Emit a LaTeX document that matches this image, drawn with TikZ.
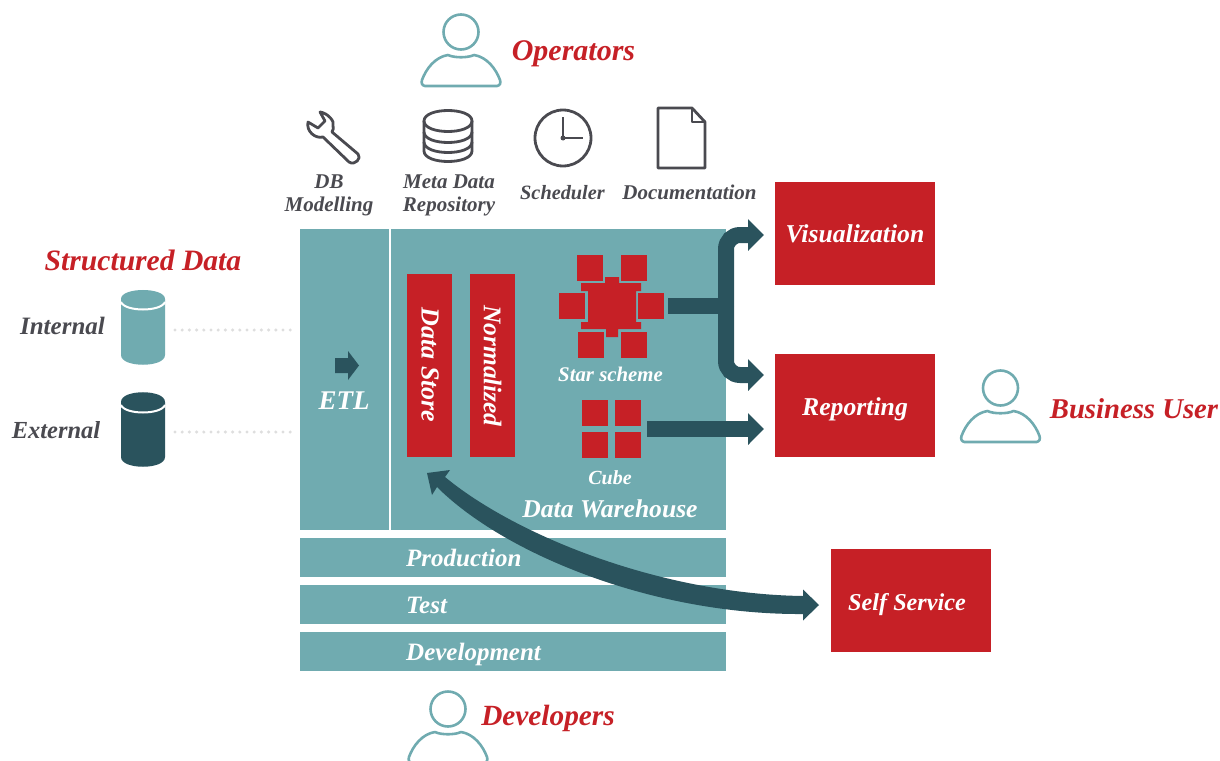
\documentclass[tikz,border=0pt]{standalone}
\usepackage{fontspec}
\setmainfont{Liberation Serif}
\usetikzlibrary{arrows.meta,calc}
\definecolor{teal}{HTML}{70ABB0}
\definecolor{deep}{HTML}{2A535D}
\definecolor{crim}{HTML}{C62026}
\definecolor{slate}{HTML}{4A4A50}
\newcommand{\fs}[1]{\fontsize{#1}{#1}\selectfont\bfseries\itshape}
\tikzset{
  box/.style={draw=none,inner sep=0pt,outer sep=0pt,anchor=north west},
  tealbox/.style={box,fill=teal},
  redbox/.style={box,fill=crim,text=white},
  sq/.style={box,fill=crim,minimum width=26pt,minimum height=26pt},
  flow/.style={draw=deep,line width=16pt},
  flowtip/.style={flow,-{Triangle[length=16pt,width=31pt]},shorten >=11pt},
  icon/.style={draw=slate,line width=2.8pt,line join=round},
  person/.style={draw=teal,line width=2.6pt,line join=round},
  tt/.style={inner sep=0pt,text=white,anchor=base},
  gray/.style={inner sep=0pt,text=slate,anchor=base},
  rd/.style={inner sep=0pt,text=crim,anchor=base},
  dots/.style={draw=black!13,line width=3.4pt,line cap=round,dash pattern=on 0pt off 7.2pt},
  pics/user/.style={code={
    \draw[person] (0,-55) circle (17.5);
    \draw[person] (-36,-1) .. controls (-39,-1.5) and (-40,-4) .. (-39,-7)
      .. controls (-35,-18) and (-26,-30) .. (-13,-32)
      .. controls (-7,-29) and (7,-29) .. (13,-32)
      .. controls (26,-30) and (35,-18) .. (39,-7)
      .. controls (40,-4) and (39,-1.5) .. (36,-1) -- cycle;
  }}
}
\begin{document}
\begin{tikzpicture}[x=1pt,y=-1pt]
\useasboundingbox (0,0) rectangle (1220,760);
\clip (0,0) rectangle (1220,760);
% panels
\node[tealbox,minimum width=426pt,minimum height=301pt] (dw) at (300,229) {};
\draw[white,line width=2pt] ($(dw.north west)+(90,0)$) -- ($(dw.south west)+(90,0)$);
\node[tealbox,minimum width=426pt,minimum height=39pt] (prod) at (300,538) {};
\node[tealbox,minimum width=426pt,minimum height=39pt] (test) at (300,585) {};
\node[tealbox,minimum width=426pt,minimum height=39pt] (dev) at (300,632) {};
\node[tt,anchor=base west,font=\fs{25}] at (406,566) {Production};
\node[tt,anchor=base west,font=\fs{25}] at (406,613) {Test};
\node[tt,anchor=base west,font=\fs{25}] at (406,660) {Development};
\node[tt,font=\fs{25.6}] at (610,517) {Data Warehouse};
\node[tt,font=\fs{27}] at (344,409) {ETL};
% ETL small arrow
\fill[deep] (335,358) -- (348,358) -- (348,351) -- (359,365.5) -- (348,380) -- (348,373) -- (335,373) -- cycle;
% red columns
\node[redbox,minimum width=45pt,minimum height=183pt] (store) at (407,274) {};
\node[redbox,minimum width=45pt,minimum height=183pt] (norm) at (470,274) {};
\node[tt,anchor=center,rotate=-90,font=\fs{26}] at (430,365) {Data Store};
\node[tt,anchor=center,rotate=-90,font=\fs{25.4}] at (492.5,366) {Normalized};
% star scheme
\node[sq] (s1) at (577,255) {};
\node[sq] (s2) at (621,255) {};
\node[sq] (s3) at (559,293) {};
\node[sq] (s4) at (638,293) {};
\node[sq] (s5) at (578,332) {};
\node[sq] (s6) at (621,332) {};
\fill[crim] (605,277) -- (619,277) -- (619,283) -- (641,283) -- (641,291) -- (636,291) -- (636,322) -- (641,322) -- (641,329)
 -- (618,329) -- (618,337) -- (606,337) -- (606,329) -- (581,329) -- (581,322) -- (588,322) -- (588,291) -- (581,291) -- (581,283) -- (605,283) -- cycle;
\node[tt,font=\fs{20.8}] at (610.5,381) {Star scheme};
% cube
\node[sq] (c1) at (582,400) {};
\node[sq] (c2) at (615,400) {};
\node[sq] (c3) at (582,432) {};
\node[sq] (c4) at (615,432) {};
\node[tt,font=\fs{20}] at (610,484) {Cube};
% target boxes
\node[redbox,minimum width=160pt,minimum height=103pt] (viz) at (775,182) {};
\node[redbox,minimum width=160pt,minimum height=103pt] (rep) at (775,354) {};
\node[redbox,minimum width=160pt,minimum height=103pt] (self) at (831,549) {};
\node[tt,font=\fs{25.7}] at (855,242) {Visualization};
\node[tt,font=\fs{25.7}] at (855,415) {Reporting};
\node[tt,font=\fs{24.2}] at (907,610) {Self Service};
% connectors
\coordinate (starj) at ($(s4.east)+(62,0)$);
\coordinate (vizin) at ($(viz.west)+(0,1.5)$);
\coordinate (repup) at ($(rep.west)+(0,-30.5)$);
\coordinate (repdn) at ($(rep.west)+(0,23.5)$);
\draw[flow] ($(s4.east)+(4,0)$) -- (starj);
\draw[flowtip,rounded corners=14pt] (starj) |- (vizin);
\draw[flowtip,rounded corners=14pt] (starj) |- (repup);
\draw[flowtip] ($(c2.south east)+(6,3)$) -- (repdn);
% curved double arrow
\coordinate (selftip) at ($(self.west)+(-12,4.5)$);
\coordinate (storetip) at ($(store.south)+(-2.5,16)$);
\fill[deep] (storetip) -- ($(storetip)+(23,-3)$) -- ($(storetip)+(18,4)$)
  .. controls (515,535) and (660,594) .. ($(selftip)+(-16,-9)$)
  -- ($(selftip)+(-16,-15.5)$) -- (selftip) -- ($(selftip)+(-16,15.5)$) -- ($(selftip)+(-16,9)$)
  .. controls (652,615) and (503,553) .. ($(storetip)+(10,14)$)
  -- ($(storetip)+(5,22)$) -- cycle;
% cylinders
\fill[teal] (121,299) .. controls (121,293) and (165,293) .. (165,299) -- (165,355) .. controls (165,368) and (121,368) .. (121,355) -- cycle;
\fill[teal] (121,299) .. controls (121,287) and (165,287) .. (165,299);
\draw[white,line width=2pt] (121,302) .. controls (125,312) and (161,312) .. (165,302);
\coordinate (intc) at (143,330);
\fill[deep] (121,402) .. controls (121,396) and (165,396) .. (165,402) -- (165,457) .. controls (165,470) and (121,470) .. (121,457) -- cycle;
\fill[deep] (121,402) .. controls (121,389) and (165,389) .. (165,402);
\draw[white,line width=2pt] (121,405) .. controls (125,415) and (161,415) .. (165,405);
\coordinate (extc) at (143,432);
\draw[dots] ($(intc)+(32,0)$) -- ($(intc)+(148,0)$);
\draw[dots] ($(extc)+(32,0)$) -- ($(extc)+(148,0)$);
\node[rd,font=\fs{29.6}] at (143,270) {Structured Data};
\node[gray,font=\fs{25}] at (62.5,334) {Internal};
\node[gray,font=\fs{24.5}] at (56,438) {External};
% people
\pic at (461,87) {user};
\pic at (1000.5,443) {user};
\pic at (448,764) {user};
\node[rd,font=\fs{30}] at (573.5,60) {Operators};
\node[rd,font=\fs{28.7}] at (1134,418) {Business User};
\node[rd,font=\fs{29.3}] at (548,725) {Developers};
% icons
\draw[icon] (320,112) .. controls (328,113) and (335,122) .. (333,125) .. controls (334,128) and (333,130) .. (332,132) -- (358,154)
  .. controls (362,158) and (355,166) .. (349,162) -- (323,137) .. controls (315,139) and (306,131) .. (308,122) -- (318,128) -- (325,121) -- cycle;
\draw[icon] (424,121) .. controls (424,107) and (472,107) .. (472,121) .. controls (472,135) and (424,135) .. (424,121) -- cycle;
\draw[icon] (424,121) -- (424,151) .. controls (424,165) and (472,165) .. (472,151) -- (472,121);
\draw[icon] (424,132) .. controls (424,146) and (472,146) .. (472,132);
\draw[icon] (424,142) .. controls (424,156) and (472,156) .. (472,142);
\draw[icon] (563,138) circle (28);
\draw[icon,line width=2pt] (563,117) -- (563,138) -- (583,138);
\fill[slate] (563,138) circle (2.5);
\draw[icon] (658,108) -- (692,108) -- (705,122) -- (705,168) -- (658,168) -- cycle;
\draw[icon,line width=2pt] (692,108) -- (692,122) -- (705,122);
\node[gray,font=\fs{21},align=center,anchor=center] at (329,195) {DB\\[2pt]Modelling};
\node[gray,font=\fs{21},align=center,anchor=center] at (449,195) {Meta Data\\[2pt]Repository};
\node[gray,font=\fs{20.3}] at (562.5,199) {Scheduler};
\node[gray,font=\fs{21}] at (689.5,199) {Documentation};
\end{tikzpicture}
\end{document}
